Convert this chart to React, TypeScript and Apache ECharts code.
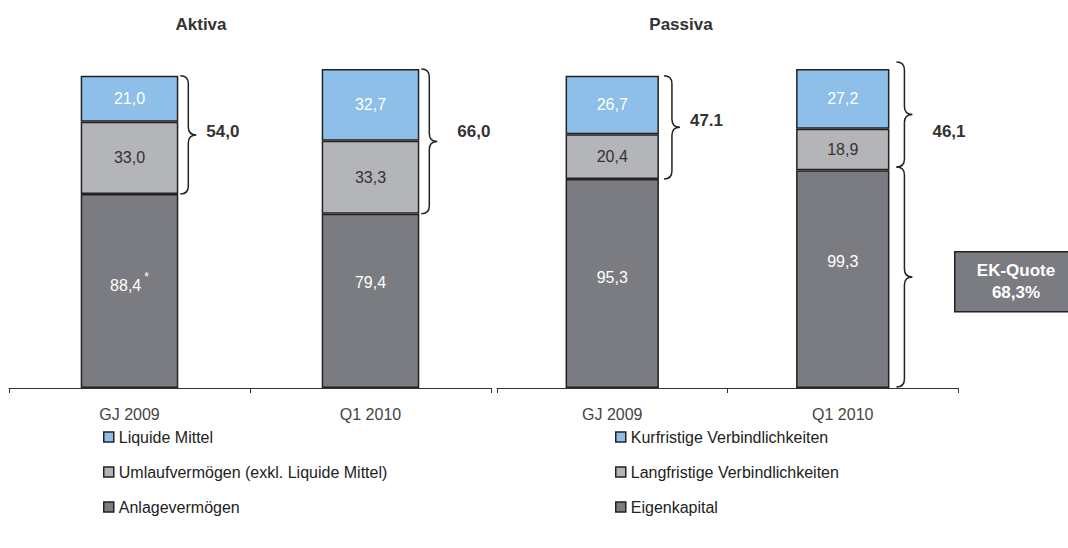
import React, { useEffect, useRef } from 'react';
import * as echarts from 'echarts';

const categories = ['GJ 2009', 'Q1 2010'];

const aktivaNames = ['Liquide Mittel', 'Umlaufvermögen (exkl. Liquide Mittel)', 'Anlagevermögen'];
const passivaNames = ['Kurfristige Verbindlichkeiten', 'Langfristige Verbindlichkeiten', 'Eigenkapital'];

const liquideMittel = [21.0, 32.7];
const umlaufvermoegen = [33.0, 33.3];
const anlagevermoegen = [88.4, 79.4];
const anlageFootnote = ['*', ''];

const kurzfristig = [26.7, 27.2];
const langfristig = [20.4, 18.9];
const eigenkapital = [95.3, 99.3];

// brace annotations: [category index, from value, to value, label value position]
const aktivaBraces = [
  [0, 88.4, 142.4, 117],
  [1, 79.4, 145.4, 117],
];
const aktivaBraceLabels = ['54,0', '66,0'];
const passivaBraces = [
  [0, 95.3, 142.4, 122],
  [1, 100.8, 148.6, 117],
  [1, 0.5, 100.8, 50],
];
const passivaBraceLabels = ['47.1', '46,1', ''];

const ekQuoteLines = ['EK-Quote', '68,3%'];

const FONT = 'Liberation Sans, Arial, Helvetica, sans-serif';
const COLORS = ['#7B7C81', '#B4B5B9', '#8EBFE8'];
const LABEL_COLORS = ['#ffffff', '#333333', '#ffffff'];
const BORDER = '#222222';
const BAR_FRAC = 0.405;
const bottomLabelShift = [-6, -18];

const fmt = (v: number) => v.toFixed(1).replace('.', ',');

function braceRenderer(labels: string[], gap: number) {
  return (params: any, api: any) => {
    const cat = api.value(0);
    const lo = api.coord([cat, api.value(1)]);
    const hi = api.coord([cat, api.value(2)]);
    const lab = api.coord([cat, api.value(3)]);
    const band = api.size([1, 0])[0];
    const x0 = lo[0] + (band * BAR_FRAC) / 2 + gap;
    const w = 16;
    const xm = x0 + w / 2;
    const xw = x0 + w;
    const y1 = hi[1];
    const y2 = lo[1];
    const ym = (y1 + y2) / 2;
    const r = Math.min(8, (y2 - y1) / 4);
    const d =
      `M${x0},${y1} Q${xm},${y1} ${xm},${y1 + r} L${xm},${ym - r} Q${xm},${ym} ${xw},${ym} ` +
      `Q${xm},${ym} ${xm},${ym + r} L${xm},${y2 - r} Q${xm},${y2} ${x0},${y2}`;
    const children: any[] = [
      {
        type: 'path',
        shape: { pathData: d },
        style: { stroke: BORDER, lineWidth: 1.5, fill: 'none' },
      },
    ];
    const text = labels[params.dataIndex];
    if (text) {
      children.push({
        type: 'text',
        x: xw + (cat === 0 ? 10 : 20),
        y: lab[1],
        style: {
          text,
          fill: '#333333',
          font: `bold 17px ${FONT}`,
          align: 'left',
          verticalAlign: 'middle',
        },
      });
    }
    return { type: 'group', children };
  };
}

function barSeries(
  names: string[],
  values: number[][],
  stack: string,
  axisIndex: number,
  footnotes?: string[]
) {
  return values.map((vals, k) => ({
    type: 'bar',
    name: names[k],
    stack,
    xAxisIndex: axisIndex,
    yAxisIndex: axisIndex,
    barWidth: `${BAR_FRAC * 100}%`,
    itemStyle: { color: COLORS[k], borderColor: BORDER, borderWidth: 1.5 },
    label: {
      show: true,
      position: 'inside',
      color: LABEL_COLORS[k],
      fontSize: 16,
      fontFamily: FONT,
      formatter: (p: any) => {
        const note = k === 0 && footnotes ? footnotes[p.dataIndex] : '';
        return note ? `{v|${fmt(p.value)}}{s|${note}}` : `{v|${fmt(p.value)}}`;
      },
      rich: {
        v: { fontSize: 16, color: LABEL_COLORS[k], fontFamily: FONT },
        s: { fontSize: 12, color: LABEL_COLORS[k], fontFamily: FONT, padding: [0, 0, 16, 3] },
      },
    },
    data: vals.map((v, i) =>
      k === 0 ? { value: v, label: { offset: [0, bottomLabelShift[i]] } } : v
    ),
  }));
}

export default function App() {
  const ref = useRef<HTMLDivElement>(null);

  useEffect(() => {
    if (!ref.current) return;
    const chart = echarts.init(ref.current, undefined, { renderer: 'svg' });

    const xAxisCommon = {
      type: 'category',
      data: categories,
      axisLine: { lineStyle: { color: '#333333', width: 1 } },
      axisTick: { show: true, length: 5, lineStyle: { color: '#333333' } },
      axisLabel: { color: '#444444', fontSize: 16, fontFamily: FONT, margin: 18 },
    };
    const yAxisCommon = { type: 'value', min: 0, max: 150, show: false };

    const legendCommon = {
      orient: 'vertical',
      top: 429,
      padding: 0,
      itemWidth: 10,
      itemHeight: 10,
      itemGap: 19,
      icon: 'rect',
      selectedMode: false,
      itemStyle: { borderColor: BORDER, borderWidth: 1.5 },
      textStyle: { fontSize: 16, color: '#222222', fontFamily: FONT, lineHeight: 16 },
    };

    chart.setOption({
      animation: false,
      textStyle: { fontFamily: FONT },
      title: [
        {
          text: 'Aktiva',
          left: 196,
          top: 11,
          textAlign: 'center',
          textStyle: { fontSize: 17, fontWeight: 'bold', color: '#333333', fontFamily: FONT },
        },
        {
          text: 'Passiva',
          left: 676,
          top: 11,
          textAlign: 'center',
          textStyle: { fontSize: 17, fontWeight: 'bold', color: '#333333', fontFamily: FONT },
        },
      ],
      legend: [
        { ...legendCommon, left: 103, data: aktivaNames },
        { ...legendCommon, left: 615, data: passivaNames },
      ],
      grid: [
        { left: 9, width: 482, top: 59, height: 329 },
        { left: 497, width: 461, top: 59, height: 329 },
      ],
      xAxis: [
        { ...xAxisCommon, gridIndex: 0 },
        { ...xAxisCommon, gridIndex: 1 },
      ],
      yAxis: [
        { ...yAxisCommon, gridIndex: 0 },
        { ...yAxisCommon, gridIndex: 1 },
      ],
      graphic: [
        {
          type: 'rect',
          left: 954,
          top: 251,
          shape: { width: 124, height: 60 },
          style: { fill: COLORS[0], stroke: BORDER, lineWidth: 1.5 },
        },
        {
          type: 'text',
          x: 1016,
          y: 281,
          style: {
            text: ekQuoteLines.join('\n'),
            fill: '#ffffff',
            font: `bold 17px ${FONT}`,
            lineHeight: 22,
            align: 'center',
            verticalAlign: 'middle',
          },
        },
      ],
      series: [
        ...barSeries(
          [aktivaNames[2], aktivaNames[1], aktivaNames[0]],
          [anlagevermoegen, umlaufvermoegen, liquideMittel],
          'a',
          0,
          anlageFootnote
        ),
        ...barSeries(
          [passivaNames[2], passivaNames[1], passivaNames[0]],
          [eigenkapital, langfristig, kurzfristig],
          'p',
          1
        ),
        {
          type: 'custom',
          xAxisIndex: 0,
          yAxisIndex: 0,
          silent: true,
          clip: false,
          renderItem: braceRenderer(aktivaBraceLabels, 2),
          data: aktivaBraces,
          z: 5,
        },
        {
          type: 'custom',
          xAxisIndex: 1,
          yAxisIndex: 1,
          silent: true,
          clip: false,
          renderItem: (p: any, api: any) => {
            const gap = api.value(0) === 0 ? 5 : 7;
            return braceRenderer(passivaBraceLabels, gap)(p, api);
          },
          data: passivaBraces,
          z: 5,
        },
      ],
    });

    return () => chart.dispose();
  }, []);

  return (
    <div
      ref={ref}
      style={{ position: 'absolute', left: 0, top: 0, width: 1068, height: 548, background: '#ffffff' }}
    />
  );
}
